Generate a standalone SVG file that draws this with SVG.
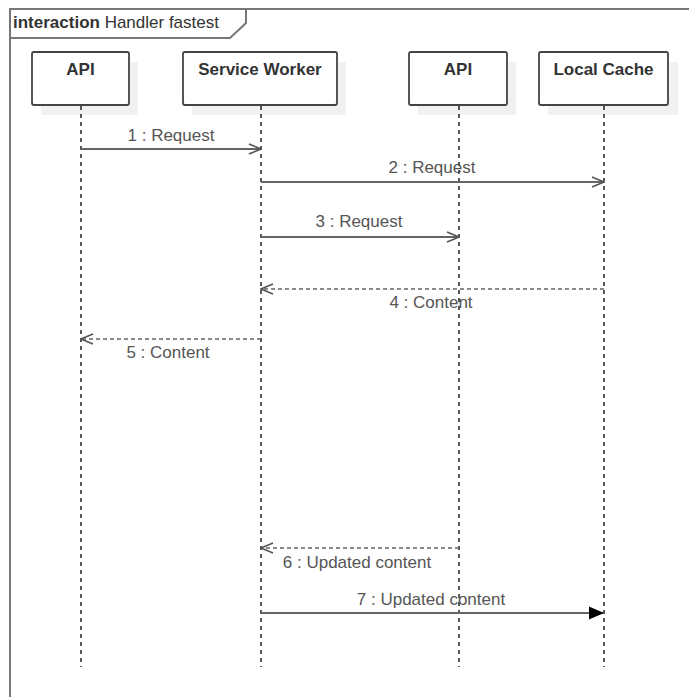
<svg xmlns="http://www.w3.org/2000/svg" width="689" height="697" viewBox="0 0 689 697">
  <style>
    text { font-family: "Liberation Sans", Arial, sans-serif; font-size: 17px; }
    .head { font-weight: bold; fill: #333; text-anchor: middle; }
    .lbl { fill: #555; text-anchor: middle; }
    .box { fill: #fff; stroke: #444; stroke-width: 1.8; }
    .shadow { fill: #f1f1f1; }
    .life { stroke: #222; stroke-width: 1.5; stroke-dasharray: 4 4; fill: none; }
    .msg { stroke: #666; stroke-width: 2; fill: none; }
    .ret { stroke: #666; stroke-width: 1.6; stroke-dasharray: 4 3; fill: none; }
    .frame { stroke: #777; stroke-width: 2; fill: none; }
  </style>
  <defs>
    <marker id="open" markerWidth="14" markerHeight="12" refX="13" refY="6" orient="auto" markerUnits="userSpaceOnUse">
      <path d="M1,1 L13,6 L1,11" fill="none" stroke="#555" stroke-width="1.5"/>
    </marker>
    <marker id="filled" markerWidth="17" markerHeight="14" refX="16" refY="7" orient="auto" markerUnits="userSpaceOnUse">
      <path d="M1,0.5 L16,7 L1,13.5 Z" fill="#000"/>
    </marker>
  </defs>

  <!-- interaction frame -->
  <g id="frame">
    <path class="frame" d="M10,697 L10,9 L689,9"/>
    <path class="frame" d="M10,38 L230,38 L246,23 L246,9"/>
    <text x="13" y="28" fill="#333"><tspan font-weight="bold">interaction</tspan> Handler fastest</text>
  </g>

  <!-- lifelines -->
  <g id="api-client">
    <rect class="shadow" x="41" y="62" width="97" height="53"/>
    <rect class="box" x="32" y="52" width="97" height="53" rx="2"/>
    <text class="head" x="80.5" y="75">API</text>
    <line class="life" x1="81" y1="106" x2="81" y2="667"/>
  </g>
  <g id="service-worker">
    <rect class="shadow" x="192" y="62" width="154" height="53"/>
    <rect class="box" x="183" y="52" width="154" height="53" rx="2"/>
    <text class="head" x="260" y="75">Service Worker</text>
    <line class="life" x1="261" y1="106" x2="261" y2="667"/>
  </g>
  <g id="api-server">
    <rect class="shadow" x="418" y="62" width="98" height="53"/>
    <rect class="box" x="409" y="52" width="98" height="53" rx="2"/>
    <text class="head" x="458" y="75">API</text>
    <line class="life" x1="459" y1="106" x2="459" y2="667"/>
  </g>
  <g id="local-cache">
    <rect class="shadow" x="548" y="62" width="130" height="53"/>
    <rect class="box" x="539" y="52" width="129" height="53" rx="2"/>
    <text class="head" x="603.5" y="75">Local Cache</text>
    <line class="life" x1="604" y1="106" x2="604" y2="667"/>
  </g>

  <!-- messages -->
  <g id="connectors">
    <line class="msg" x1="81" y1="149" x2="261" y2="149" marker-end="url(#open)"/>
    <text class="lbl" x="171" y="141">1 : Request</text>

    <line class="msg" x1="261" y1="182" x2="604" y2="182" marker-end="url(#open)"/>
    <text class="lbl" x="432" y="173">2 : Request</text>

    <line class="msg" x1="261" y1="237" x2="459" y2="237" marker-end="url(#open)"/>
    <text class="lbl" x="359" y="227">3 : Request</text>

    <line class="ret" x1="604" y1="289" x2="261" y2="289" marker-end="url(#open)"/>
    <text class="lbl" x="431" y="308">4 : Content</text>

    <line class="ret" x1="261" y1="339" x2="81" y2="339" marker-end="url(#open)"/>
    <text class="lbl" x="168" y="358">5 : Content</text>

    <line class="ret" x1="459" y1="548" x2="261" y2="548" marker-end="url(#open)"/>
    <text class="lbl" x="357" y="568">6 : Updated content</text>

    <line class="msg" x1="261" y1="613" x2="604" y2="613" marker-end="url(#filled)"/>
    <text class="lbl" x="431" y="605">7 : Updated content</text>
  </g>
</svg>
